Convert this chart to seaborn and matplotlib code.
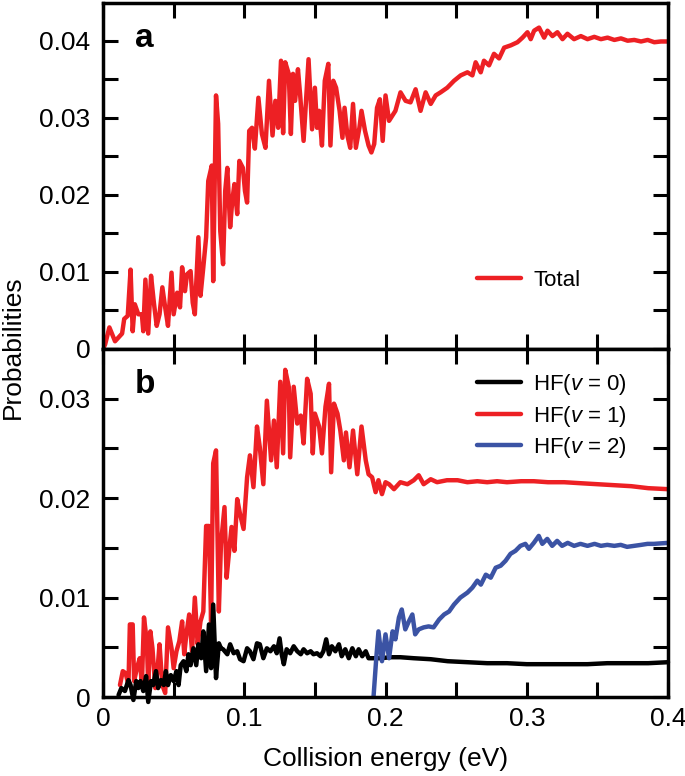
import matplotlib
matplotlib.use("Agg")
import matplotlib.pyplot as plt
import seaborn as sns
from matplotlib.ticker import MultipleLocator, FuncFormatter

# total probability (panel a)
energy_total = [0.0, 0.0015, 0.0045, 0.0085, 0.011, 0.0135, 0.015, 0.0175, 0.0195, 0.021,
                0.0225, 0.025, 0.0275, 0.0285, 0.030, 0.032, 0.034, 0.036, 0.038, 0.040,
                0.042, 0.044, 0.046, 0.0485, 0.050, 0.0525, 0.0545, 0.056, 0.058, 0.0595,
                0.062, 0.0635, 0.065, 0.0675, 0.069, 0.071, 0.073, 0.0745, 0.077, 0.078,
                0.080, 0.0815, 0.083, 0.085, 0.0865, 0.088, 0.090, 0.0915, 0.093, 0.095,
                0.0965, 0.099, 0.1005, 0.102, 0.1035, 0.1055, 0.1075, 0.110, 0.1125, 0.115,
                0.1175, 0.120, 0.122, 0.124, 0.126, 0.1275, 0.129, 0.1315, 0.133, 0.1345,
                0.136, 0.138, 0.1395, 0.142, 0.144, 0.1455, 0.148, 0.150, 0.1515, 0.153,
                0.155, 0.157, 0.1595, 0.161, 0.163, 0.165, 0.1675, 0.1695, 0.171, 0.173,
                0.175, 0.177, 0.179, 0.1815, 0.183, 0.1855, 0.188, 0.190, 0.192, 0.194,
                0.196, 0.198, 0.200, 0.2025, 0.207, 0.2106, 0.2142, 0.2177, 0.2213, 0.2248,
                0.2284, 0.232, 0.2355, 0.239, 0.2437, 0.2485, 0.2532, 0.258, 0.2615, 0.2638,
                0.2674, 0.2697, 0.2733, 0.2768, 0.2804, 0.284, 0.2887, 0.2934, 0.297, 0.3005,
                0.3028, 0.3052, 0.3087, 0.3123, 0.3147, 0.3182, 0.3217, 0.3253, 0.3288, 0.3335,
                0.3383, 0.343, 0.3478, 0.3525, 0.3572, 0.362, 0.3667, 0.3714, 0.3761, 0.3809,
                0.3856, 0.3903, 0.395, 0.3998]
prob_total = [0.0, 0.0006, 0.0028, 0.0010, 0.0015, 0.0020, 0.0039, 0.0043, 0.0103, 0.0023,
              0.0058, 0.0045, 0.0045, 0.0023, 0.0090, 0.0020, 0.0095, 0.0060, 0.0030, 0.0045,
              0.0080, 0.0054, 0.0030, 0.0099, 0.0045, 0.0073, 0.0054, 0.0106, 0.0075, 0.0097,
              0.0101, 0.0060, 0.0045, 0.0145, 0.0069, 0.0106, 0.0145, 0.0218, 0.0238, 0.0088,
              0.0329, 0.0292, 0.0153, 0.0110, 0.0205, 0.0235, 0.0158, 0.0192, 0.0214, 0.0175,
              0.0244, 0.0235, 0.0205, 0.0190, 0.0283, 0.0287, 0.0260, 0.0326, 0.0279, 0.0261,
              0.0348, 0.0277, 0.0322, 0.0287, 0.0374, 0.0280, 0.0372, 0.0357, 0.0279, 0.0357,
              0.0322, 0.0363, 0.0331, 0.0270, 0.0331, 0.0376, 0.0285, 0.0339, 0.0287, 0.0309,
              0.0264, 0.0348, 0.0370, 0.0264, 0.0348, 0.0339, 0.0309, 0.0274, 0.0313, 0.0277,
              0.0261, 0.0318, 0.0261, 0.0287, 0.0309, 0.0283, 0.0264, 0.0255, 0.0266, 0.0313,
              0.0324, 0.0270, 0.0329, 0.0296, 0.0309, 0.0333, 0.0322, 0.0320, 0.0337, 0.0309,
              0.0333, 0.0318, 0.0329, 0.0333, 0.0339, 0.0348, 0.0355, 0.0359, 0.0355, 0.0372,
              0.0359, 0.0374, 0.0368, 0.0383, 0.0377, 0.0391, 0.0394, 0.0398, 0.0404, 0.0411,
              0.0402, 0.0413, 0.0417, 0.0404, 0.0413, 0.0406, 0.0411, 0.0402, 0.0409, 0.0402,
              0.0406, 0.0402, 0.0405, 0.0402, 0.0404, 0.0401, 0.0403, 0.0400, 0.0401, 0.0399,
              0.0401, 0.0398, 0.0399, 0.0399]

# HF(v=1) (panel b, red)
energy_v1 = [0.012, 0.014, 0.016, 0.018, 0.019, 0.021, 0.022, 0.024, 0.026, 0.0275,
             0.029, 0.031, 0.032, 0.0335, 0.035, 0.037, 0.0385, 0.040, 0.042, 0.044,
             0.046, 0.0485, 0.050, 0.052, 0.054, 0.056, 0.0575, 0.059, 0.061, 0.063,
             0.065, 0.067, 0.069, 0.071, 0.073, 0.075, 0.0765, 0.078, 0.080, 0.082,
             0.0835, 0.086, 0.0875, 0.0895, 0.091, 0.093, 0.095, 0.097, 0.0995, 0.102,
             0.104, 0.1065, 0.109, 0.111, 0.1135, 0.116, 0.119, 0.121, 0.123, 0.1255,
             0.1275, 0.129, 0.1315, 0.1325, 0.135, 0.1375, 0.140, 0.142, 0.1445, 0.147,
             0.1485, 0.150, 0.153, 0.155, 0.1575, 0.160, 0.1615, 0.1635, 0.166, 0.168,
             0.1705, 0.172, 0.1745, 0.177, 0.180, 0.183, 0.186, 0.188, 0.1905, 0.193,
             0.195, 0.1975, 0.200, 0.2025, 0.206, 0.2105, 0.2155, 0.220, 0.2235, 0.227,
             0.232, 0.2365, 0.2435, 0.251, 0.258, 0.265, 0.272, 0.279, 0.286, 0.296,
             0.305, 0.315, 0.3265, 0.338, 0.350, 0.362, 0.374, 0.386, 0.400]
prob_v1 = [0.0012, 0.0026, 0.0024, 0.0012, 0.0073, 0.0073, 0.0016, 0.0029, 0.0039, 0.0012,
           0.0080, 0.0056, 0.0012, 0.0066, 0.0049, 0.0009, 0.0026, 0.0053, 0.0012, 0.0004,
           0.0070, 0.0049, 0.0029, 0.0046, 0.0056, 0.0076, 0.0043, 0.0063, 0.0083, 0.0046,
           0.0100, 0.0053, 0.0076, 0.0086, 0.0172, 0.0172, 0.0076, 0.0235, 0.0248, 0.0086,
           0.0154, 0.0191, 0.0120, 0.0150, 0.0171, 0.0147, 0.0199, 0.0184, 0.0169, 0.0221,
           0.0243, 0.0211, 0.0272, 0.0251, 0.0214, 0.0298, 0.0238, 0.0278, 0.0231, 0.0317,
           0.0245, 0.0329, 0.0312, 0.0241, 0.0312, 0.0275, 0.0283, 0.0255, 0.0320, 0.0305,
           0.0245, 0.0285, 0.0272, 0.0245, 0.0292, 0.0315, 0.0226, 0.0295, 0.0285, 0.0268,
           0.0238, 0.0266, 0.0231, 0.0268, 0.0224, 0.0272, 0.0238, 0.0224, 0.0221, 0.0206,
           0.0218, 0.0204, 0.0216, 0.0214, 0.0209, 0.0216, 0.0214, 0.0218, 0.0223, 0.0214,
           0.0219, 0.0216, 0.0218, 0.0218, 0.0216, 0.0217, 0.0216, 0.0217, 0.0216, 0.0217,
           0.0217, 0.0216, 0.0216, 0.0215, 0.0214, 0.0213, 0.0212, 0.0210, 0.0209]

# HF(v=0) (panel b, black)
energy_v0 = [0.011, 0.013, 0.0155, 0.018, 0.0195, 0.0215, 0.0235, 0.025, 0.0265, 0.0285,
             0.0305, 0.032, 0.034, 0.0355, 0.0375, 0.039, 0.041, 0.043, 0.0445, 0.046,
             0.048, 0.050, 0.052, 0.0535, 0.055, 0.057, 0.059, 0.0605, 0.062, 0.064,
             0.066, 0.0675, 0.0695, 0.071, 0.073, 0.075, 0.0765, 0.078, 0.080, 0.082,
             0.0835, 0.085, 0.088, 0.090, 0.0925, 0.095, 0.097, 0.0995, 0.102, 0.104,
             0.1065, 0.109, 0.111, 0.1135, 0.116, 0.1185, 0.121, 0.123, 0.125, 0.1265,
             0.128, 0.130, 0.1325, 0.135, 0.1375, 0.140, 0.142, 0.1445, 0.147, 0.149,
             0.1515, 0.154, 0.156, 0.158, 0.160, 0.162, 0.1645, 0.167, 0.169, 0.1715,
             0.174, 0.1765, 0.179, 0.181, 0.1835, 0.186, 0.188, 0.192, 0.1965, 0.2035,
             0.2105, 0.220, 0.232, 0.244, 0.258, 0.272, 0.286, 0.300, 0.315, 0.329,
             0.343, 0.357, 0.371, 0.386, 0.400]
prob_v0 = [0.0002, 0.0009, 0.0006, 0.0017, 0.0012, -0.0003, 0.0016, 0.0009, 0.0016, 0.0006,
           0.0021, -0.0005, 0.0016, 0.0012, 0.0026, 0.0009, 0.0017, 0.0012, 0.0026, 0.0012,
           0.0022, 0.0016, 0.0026, 0.0012, 0.0032, 0.0036, 0.0026, 0.0043, 0.0032, 0.0049,
           0.0032, 0.0053, 0.0039, 0.0066, 0.0026, 0.0073, 0.0029, 0.0093, 0.0019, 0.0054,
           0.0049, 0.0048, 0.0043, 0.0053, 0.0044, 0.0046, 0.0038, 0.0036, 0.0049, 0.0046,
           0.0038, 0.0054, 0.0053, 0.0039, 0.0049, 0.0046, 0.0051, 0.0044, 0.0059, 0.0043,
           0.0033, 0.0048, 0.0044, 0.0051, 0.0046, 0.0043, 0.0048, 0.0044, 0.0046, 0.0043,
           0.0044, 0.0041, 0.0046, 0.0058, 0.0043, 0.0051, 0.0046, 0.0053, 0.0041, 0.0048,
           0.0039, 0.0049, 0.0041, 0.0048, 0.0041, 0.0046, 0.0039, 0.0039, 0.0039, 0.0040,
           0.0040, 0.0039, 0.0038, 0.0036, 0.0035, 0.0034, 0.0034, 0.0033, 0.0033, 0.0033,
           0.0033, 0.0034, 0.0034, 0.0034, 0.0035]

# HF(v=2) (panel b, blue)
energy_v2 = [0.1915, 0.1935, 0.195, 0.1975, 0.200, 0.2025, 0.205, 0.207, 0.2095, 0.2115,
             0.214, 0.2165, 0.219, 0.221, 0.2235, 0.227, 0.2305, 0.234, 0.238, 0.2415,
             0.245, 0.2485, 0.253, 0.258, 0.2615, 0.265, 0.2675, 0.271, 0.2745, 0.278,
             0.2815, 0.285, 0.2885, 0.292, 0.2955, 0.299, 0.3015, 0.305, 0.3085, 0.311,
             0.3145, 0.318, 0.3215, 0.325, 0.329, 0.3335, 0.338, 0.343, 0.348, 0.3525,
             0.357, 0.362, 0.3665, 0.371, 0.376, 0.381, 0.3855, 0.390, 0.400]
prob_v2 = [0.0000, 0.0040, 0.0066, 0.0036, 0.0063, 0.0039, 0.0066, 0.0058, 0.0080, 0.0088,
           0.0068, 0.0076, 0.0083, 0.0063, 0.0068, 0.0070, 0.0071, 0.0070, 0.0078, 0.0083,
           0.0086, 0.0093, 0.0100, 0.0105, 0.0110, 0.0117, 0.0113, 0.0123, 0.0120, 0.0130,
           0.0132, 0.0137, 0.0144, 0.0147, 0.0152, 0.0154, 0.0149, 0.0155, 0.0162, 0.0154,
           0.0159, 0.0152, 0.0157, 0.0152, 0.0155, 0.0152, 0.0154, 0.0152, 0.0154, 0.0152,
           0.0153, 0.0152, 0.0153, 0.0151, 0.0152, 0.0153, 0.0154, 0.0154, 0.0155]

red = "#ED2024"
blue = "#3B53A4"

sns.set_theme(style="ticks")
plt.rcParams["font.family"] = ["Liberation Sans", "DejaVu Sans"]
plt.rcParams["mathtext.fontset"] = "custom"
plt.rcParams["mathtext.it"] = "Liberation Sans:italic"
plt.rcParams["mathtext.rm"] = "Liberation Sans"
plt.rcParams["text.color"] = "black"
plt.rcParams["axes.labelcolor"] = "black"
plt.rcParams["xtick.color"] = "black"
plt.rcParams["ytick.color"] = "black"

fig = plt.figure(figsize=(6.85, 7.76), dpi=100)
ax1 = fig.add_axes([0.1504, 0.5503, 0.8248, 0.4459])
ax2 = fig.add_axes([0.1504, 0.1018, 0.8248, 0.4485])

lw = 3.2
sns.lineplot(x=energy_total, y=prob_total, ax=ax1, color=red, linewidth=lw,
             estimator=None, label="Total")
sns.lineplot(x=energy_v1, y=prob_v1, ax=ax2, color=red, linewidth=lw,
             estimator=None, label="HF($v$ = 1)")
sns.lineplot(x=energy_v0, y=prob_v0, ax=ax2, color="black", linewidth=lw,
             estimator=None, label="HF($v$ = 0)", clip_on=False)
sns.lineplot(x=energy_v2, y=prob_v2, ax=ax2, color=blue, linewidth=lw,
             estimator=None, label="HF($v$ = 2)")

ax1.set_ylim(0, 0.0449)
ax2.set_ylim(0, 0.0350)

fmt_y = FuncFormatter(lambda v, p: "0" if abs(v) < 1e-9 else f"{v:.2f}")
fmt_x = FuncFormatter(lambda v, p: "0" if abs(v) < 1e-9 else f"{v:.1f}")
for ax in (ax1, ax2):
    ax.set_xlim(0, 0.4)
    ax.xaxis.set_major_locator(MultipleLocator(0.1))
    ax.xaxis.set_minor_locator(MultipleLocator(0.05))
    ax.yaxis.set_major_locator(MultipleLocator(0.01))
    ax.yaxis.set_minor_locator(MultipleLocator(0.005))
    ax.yaxis.set_major_formatter(fmt_y)
    ax.xaxis.set_major_formatter(fmt_x)
    ax.tick_params(which="both", direction="in", top=True, right=True,
                   length=11, width=2.2, labelsize=19, color="black",
                   labelcolor="black")
    ax.tick_params(axis="y", which="major", pad=9)
    ax.tick_params(axis="x", which="major", pad=7)
    for s in ax.spines.values():
        s.set_linewidth(2.5)
        s.set_color("black")
    ax.set_xlabel("")
    ax.set_ylabel("")

ax1.tick_params(axis="x", labelbottom=False)
ax2.set_xlabel("Collision energy (eV)", fontsize=19, labelpad=12, color="black")

ax1.text(0.057, 0.873, "a", transform=ax1.transAxes, fontsize=24,
         fontweight="bold", va="baseline", color="black")
ax2.text(0.057, 0.874, "b", transform=ax2.transAxes, fontsize=24,
         fontweight="bold", va="baseline", color="black")
fig.text(0.019, 0.553, "Probabilities", rotation=90, ha="center", va="center",
         fontsize=19, color="black")

ax1.legend(loc="center left", bbox_to_anchor=(0.662, 0.199), frameon=False,
           fontsize=16, handlelength=1.96, handletextpad=0.57,
           borderpad=0, borderaxespad=0, labelcolor="black")

h, l = ax2.get_legend_handles_labels()
order = [1, 0, 2]
ax2.legend([h[i] for i in order], [l[i] for i in order], loc="upper left",
           bbox_to_anchor=(0.662, 0.934), frameon=False, fontsize=16,
           handlelength=1.96, handletextpad=0.57, labelspacing=0.3,
           borderpad=0, borderaxespad=0, labelcolor="black")

plt.savefig("out.png", dpi=100)
